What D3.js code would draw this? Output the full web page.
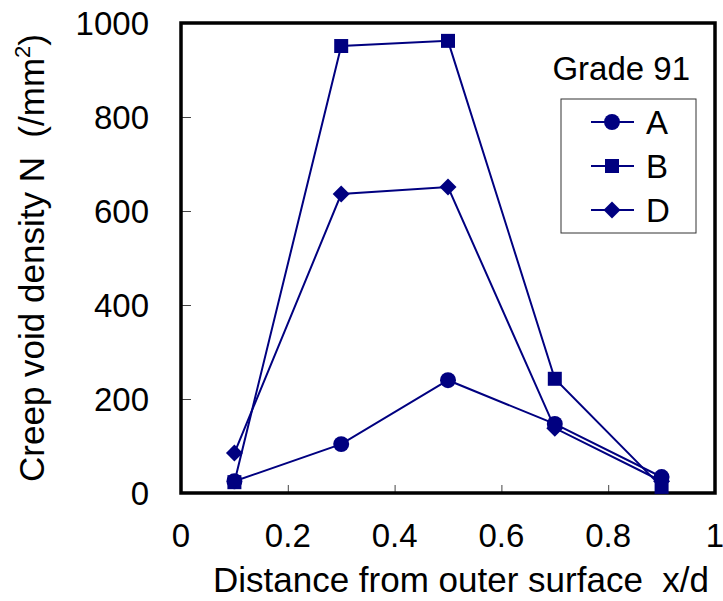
<!DOCTYPE html>
<html><head><meta charset="utf-8">
<script src="https://cdn.jsdelivr.net/npm/d3@7"></script>
<style>body{margin:0;background:#fff}svg{display:block}text{font-family:"Liberation Sans",Arial,sans-serif;white-space:pre}</style>
</head><body><svg id="c" width="723" height="601"></svg>
<script>
const xs = [0.1, 0.3, 0.5, 0.7, 0.9];
const seriesA = [25, 104, 240, 147, 34];
const seriesB = [23, 951, 962, 243, 13];
const seriesD = [85, 636, 651, 138, 25];
const seriesNames = ["A", "B", "D"];
const xTicks = [0, 0.2, 0.4, 0.6, 0.8, 1];
const yTicks = [0, 200, 400, 600, 800, 1000];

const svg = d3.select("#c");
const L = 181, R = 715, T = 23, B = 493;
const x = d3.scaleLinear().domain([0, 1]).range([L, R]);
const y = d3.scaleLinear().domain([0, 1000]).range([B, T]);
const col = "#000080";

// ticks inside
const ax = svg.append("g").attr("transform", `translate(0,${B})`)
  .call(d3.axisTop(x).tickValues(xTicks).tickSize(8).tickFormat(""));
ax.select(".domain").remove();
ax.selectAll("line").attr("stroke", "#444").attr("stroke-width", 1);
const ay = svg.append("g").attr("transform", `translate(${L},0)`)
  .call(d3.axisRight(y).tickValues(yTicks).tickSize(10).tickFormat(""));
ay.select(".domain").remove();
ay.selectAll("line").attr("stroke", "#444").attr("stroke-width", 1);

// tick labels
svg.append("g").selectAll("text").data(xTicks).join("text")
  .attr("x", d => x(d)).attr("y", 547).attr("text-anchor", "middle")
  .attr("font-size", 33).text(d => d3.format("")(d));
svg.append("g").selectAll("text").data(yTicks).join("text")
  .attr("x", 149).attr("y", d => y(d) + 12).attr("text-anchor", "end")
  .attr("font-size", 33).text(d => d);

// frame
svg.append("rect").attr("x", L).attr("y", T).attr("width", R - L).attr("height", B - T)
  .attr("fill", "none").attr("stroke", "#000").attr("stroke-width", 3.5);

// titles
svg.append("text").attr("x", 461).attr("y", 592).attr("text-anchor", "middle")
  .attr("font-size", 35).text("Distance from outer surface  x/d");
const yt = svg.append("text").attr("transform", "translate(44,258) rotate(-90)")
  .attr("text-anchor", "middle").attr("font-size", 35);
yt.append("tspan").text("Creep void density N  (/mm");
yt.append("tspan").attr("font-size", 22).attr("dy", -14).text("2");
yt.append("tspan").attr("dy", 14).text(")");

const data = [seriesA, seriesB, seriesD];
const shapes = [d3.symbolCircle, d3.symbolSquare, d3.symbolSquare];
const sizes = [200, 196, 144];
const rot = [0, 0, 45];
const line = d3.line().x((d, i) => x(xs[i])).y(d => y(d));
const plot = svg.append("g");
data.forEach((s, k) => {
  plot.append("path").datum(s).attr("d", line).attr("fill", "none")
    .attr("stroke", col).attr("stroke-width", 2);
});
data.forEach((s, k) => {
  plot.selectAll(null).data(s).join("path")
    .attr("transform", (d, i) => `translate(${x(xs[i])},${y(d)}) rotate(${rot[k]})`)
    .attr("d", d3.symbol().type(shapes[k]).size(sizes[k])).attr("fill", col);
});

// Grade label and legend
svg.append("text").attr("x", 690).attr("y", 80).attr("text-anchor", "end")
  .attr("font-size", 33).text("Grade 91");
svg.append("rect").attr("x", 561).attr("y", 99).attr("width", 135).attr("height", 134)
  .attr("fill", "#fff").attr("stroke", "#333").attr("stroke-width", 1);
seriesNames.forEach((n, k) => {
  const ly = 122 + k * 44;
  svg.append("line").attr("x1", 591).attr("x2", 634).attr("y1", ly).attr("y2", ly)
    .attr("stroke", col).attr("stroke-width", 2);
  svg.append("path").attr("transform", `translate(612,${ly}) rotate(${rot[k]})`)
    .attr("d", d3.symbol().type(shapes[k]).size(sizes[k])).attr("fill", col);
  svg.append("text").attr("x", 646).attr("y", ly + 12).attr("font-size", 33).text(n);
});
</script></body></html>
